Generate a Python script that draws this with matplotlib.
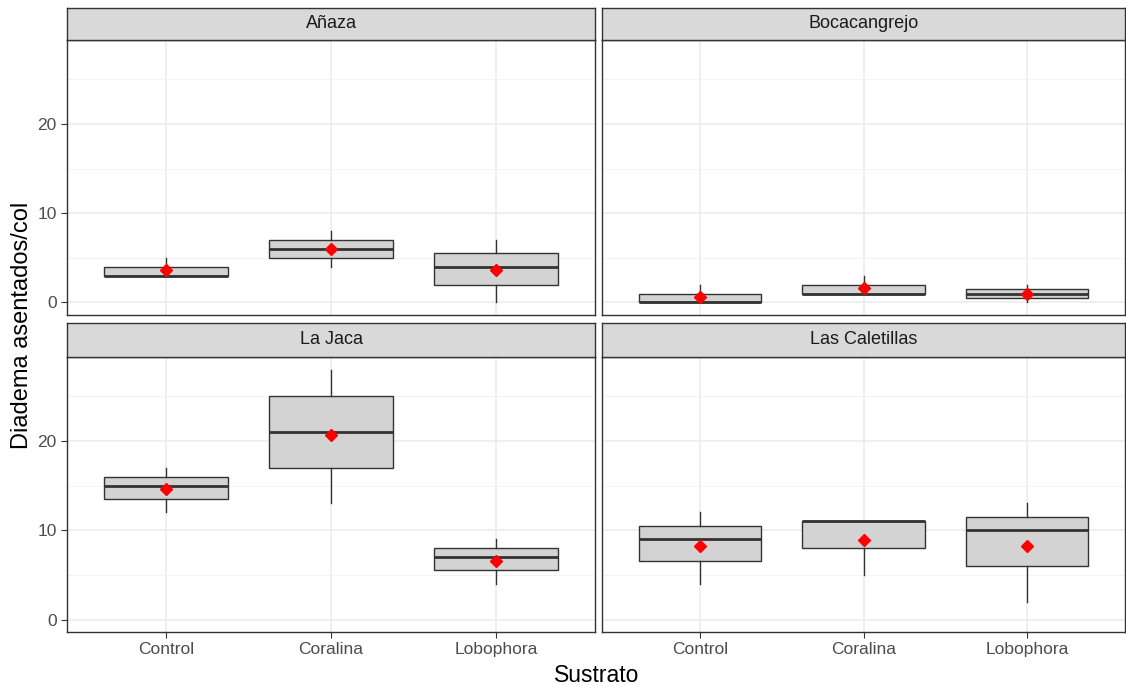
import matplotlib
matplotlib.use("Agg")
import matplotlib.pyplot as plt

plt.rcParams["font.family"] = ["Liberation Sans", "DejaVu Sans"]

sites = ["Añaza", "Bocacangrejo", "La Jaca", "Las Caletillas"]
sustratos = ["Control", "Coralina", "Lobophora"]

# boxplot stats per site, one value per sustrato
q_min = {"Añaza": [3, 4, 0], "Bocacangrejo": [0, 1, 0],
         "La Jaca": [12, 13, 4], "Las Caletillas": [4, 5, 2]}
q1 = {"Añaza": [3, 5, 2], "Bocacangrejo": [0, 1, 0.5],
      "La Jaca": [13.5, 17, 5.5], "Las Caletillas": [6.5, 8, 6]}
med = {"Añaza": [3, 6, 4], "Bocacangrejo": [0, 1, 1],
       "La Jaca": [15, 21, 7], "Las Caletillas": [9, 11, 10]}
q3 = {"Añaza": [4, 7, 5.5], "Bocacangrejo": [1, 2, 1.5],
      "La Jaca": [16, 25, 8], "Las Caletillas": [10.5, 11, 11.5]}
q_max = {"Añaza": [5, 8, 7], "Bocacangrejo": [2, 3, 2],
         "La Jaca": [17, 28, 9], "Las Caletillas": [12, 11, 13]}
means = {"Añaza": [3.67, 6.0, 3.67], "Bocacangrejo": [0.67, 1.6, 0.95],
         "La Jaca": [14.6, 20.7, 6.6], "Las Caletillas": [8.25, 8.9, 8.25]}

W, H = 1126, 686
fig = plt.figure(figsize=(W / 100, H / 100), dpi=100)

# panel boxes in pixels: (left, right, strip_top, panel_top, panel_bottom)
cols = [(67, 595), (602, 1125)]
rows = [(8, 40, 315), (323, 357, 632)]

edge = "#333333"
for i, site in enumerate(sites):
    r, c = divmod(i, 2)
    x0, x1 = cols[c]
    st, pt, pb = rows[r]
    ax = fig.add_axes([x0 / W, 1 - pb / H, (x1 - x0) / W, (pb - pt) / H])
    sax = fig.add_axes([x0 / W, 1 - pt / H, (x1 - x0) / W, (pt - st) / H])
    sax.set_facecolor("#d9d9d9")
    sax.set_xticks([])
    sax.set_yticks([])
    for s in sax.spines.values():
        s.set_color(edge)
        s.set_linewidth(1)
    sax.text(0.5, 0.5, site, ha="center", va="center", fontsize=13,
             color="#1a1a1a", transform=sax.transAxes)

    stats = []
    for k in range(3):
        stats.append({"whislo": q_min[site][k], "q1": q1[site][k],
                      "med": med[site][k], "q3": q3[site][k],
                      "whishi": q_max[site][k], "fliers": []})
    ax.bxp(stats, positions=[1, 2, 3], widths=0.75, patch_artist=True,
           showcaps=False,
           boxprops=dict(facecolor="#d3d3d3", edgecolor=edge, linewidth=1),
           medianprops=dict(color=edge, linewidth=2),
           whiskerprops=dict(color=edge, linewidth=1), zorder=2)
    ax.plot([1, 2, 3], means[site], linestyle="none", marker="D",
            markersize=6.5, color="red", zorder=3)

    ax.set_xlim(0.4, 3.6)
    ax.set_ylim(-1.4, 29.4)
    ax.set_yticks([0, 10, 20])
    ax.set_yticks([5, 15, 25], minor=True)
    ax.set_xticks([1, 2, 3])
    ax.grid(True, which="major", color="#ebebeb", linewidth=1.1, zorder=0)
    ax.grid(True, which="minor", axis="y", color="#f2f2f2", linewidth=0.6, zorder=0)
    ax.set_axisbelow(True)
    ax.tick_params(which="minor", length=0)
    ax.tick_params(which="major", length=4, color=edge, labelcolor="#4d4d4d",
                   labelsize=12.5)
    for s in ax.spines.values():
        s.set_color(edge)
        s.set_linewidth(1)
    if r == 1:
        ax.set_xticklabels(sustratos)
    else:
        ax.tick_params(axis="x", length=0, labelbottom=False)
    if c == 1:
        ax.tick_params(axis="y", length=0, labelleft=False)

fig.text(597 / W, 1 - 675 / H, "Sustrato", ha="center", va="center",
         fontsize=16.5)
fig.text(22 / W, 1 - 325 / H, "Diadema asentados/col", ha="center",
         va="center", rotation=90, fontsize=17)

fig.savefig("out.png", dpi=100)
